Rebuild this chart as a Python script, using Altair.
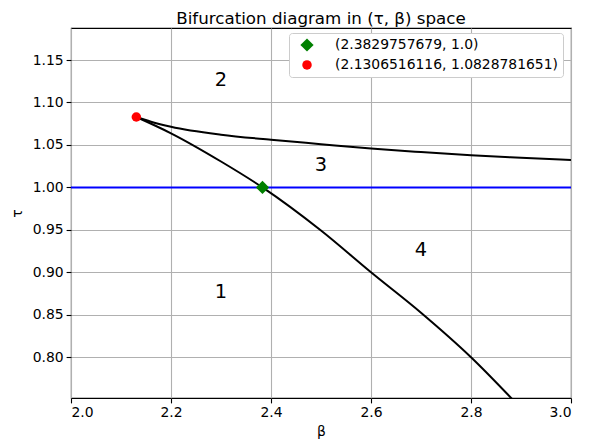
import altair as alt
import pandas as pd

# ---- data ----
upper_beta = [2.1306516116, 2.16, 2.2, 2.3, 2.4, 2.5, 2.6, 2.7, 2.8, 2.9, 3.0]
upper_tau = [1.0828781651, 1.0774, 1.0715, 1.0621, 1.0561, 1.0509, 1.0458, 1.0416, 1.0378, 1.0349, 1.0323]

lower_beta = [2.1306516116, 2.2, 2.3, 2.3829757679, 2.5, 2.6, 2.7, 2.8, 2.9]
lower_tau = [1.0828781651, 1.0637, 1.0305, 1.0, 0.9492, 0.9000, 0.8524, 0.8000, 0.7398]

hline_tau = 1.0
hline_beta = [2.0, 3.0]

point_beta = [2.3829757679, 2.1306516116]
point_tau = [1.0, 1.0828781651]
point_labels = ["(2.3829757679, 1.0)", "(2.1306516116, 1.0828781651)"]
point_colors = ["green", "red"]
point_shapes = ["diamond", "circle"]
point_sizes = [175, 90]

region_text = ["1", "2", "3", "4"]
region_beta = [2.3, 2.3, 2.5, 2.7]
region_tau = [0.8765, 1.1265, 1.0264, 0.9263]

x_ticks = [2.0, 2.2, 2.4, 2.6, 2.8, 3.0]
y_ticks = [0.80, 0.85, 0.90, 0.95, 1.00, 1.05, 1.10, 1.15]

FONT = "DejaVu Sans"
FS = 13.9

curves = pd.DataFrame(
    [{"beta": b, "tau": t, "branch": "upper", "i": i} for i, (b, t) in enumerate(zip(upper_beta, upper_tau))]
    + [{"beta": b, "tau": t, "branch": "lower", "i": i} for i, (b, t) in enumerate(zip(lower_beta, lower_tau))]
)
hline = pd.DataFrame({"beta": hline_beta, "tau": [hline_tau] * len(hline_beta)})
points = pd.DataFrame({"beta": point_beta, "tau": point_tau, "label": point_labels})
regions = pd.DataFrame({"beta": region_beta, "tau": region_tau, "text": region_text})

xscale = alt.Scale(domain=[2.0, 3.0], nice=False, zero=False)
yscale = alt.Scale(domain=[0.752, 1.1877], nice=False, zero=False)

xaxis = alt.Axis(values=x_ticks, format=".1f", title="β", grid=True)
yaxis = alt.Axis(values=y_ticks, format=".2f", title="τ", grid=True)

x = alt.X("beta:Q", scale=xscale, axis=xaxis)
y = alt.Y("tau:Q", scale=yscale, axis=yaxis)

curve_layer = alt.Chart(curves).mark_line(
    color="black", strokeWidth=2, clip=True, interpolate="monotone"
).encode(x=x, y=y, detail="branch:N", order="i:Q")

hline_layer = alt.Chart(hline).mark_line(color="blue", strokeWidth=2, clip=True).encode(
    x=x, y=y
)

legend = alt.Legend(
    title=None,
    orient="none",
    legendX=218,
    legendY=5,
    fillColor="white",
    strokeColor="#cccccc",
    cornerRadius=3,
    padding=5,
    labelFont=FONT,
    labelFontSize=FS,
    labelColor="black",
    labelOffset=21,
    labelLimit=500,
    symbolOffset=6,
    rowPadding=5,
    symbolStrokeWidth=0,
)

point_layer = alt.Chart(points).mark_point(filled=True, opacity=1).encode(
    x=x,
    y=y,
    color=alt.Color("label:N", scale=alt.Scale(domain=point_labels, range=point_colors), legend=legend),
    shape=alt.Shape("label:N", scale=alt.Scale(domain=point_labels, range=point_shapes), legend=legend),
    size=alt.Size("label:N", scale=alt.Scale(domain=point_labels, range=point_sizes), legend=legend),
)

text_layer = alt.Chart(regions).mark_text(
    font=FONT, fontSize=19.4, color="black", align="center", baseline="middle"
).encode(x=x, y=y, text="text:N")

chart = (
    alt.layer(curve_layer, hline_layer, point_layer, text_layer)
    .properties(
        width=500,
        height=370,
        background="white",
        autosize=alt.AutoSizeParams(type="none"),
        padding={"left": 63, "top": 20, "right": 12, "bottom": 45},
        title=alt.Title(
            "Bifurcation diagram in (τ, β) space",
            font=FONT,
            fontSize=16.7,
            fontWeight="normal",
            color="black",
            offset=0,
        ),
    )
    .configure_view(stroke="black", strokeWidth=1.1)
    .configure_axis(
        labelFont=FONT,
        labelFontSize=FS,
        labelColor="black",
        titleFont=FONT,
        titleFontSize=FS,
        titleFontWeight="normal",
        titleColor="black",
        domain=False,
        tickColor="black",
        tickSize=4.9,
        tickWidth=1.1,
        labelPadding=3,
        gridColor="#b0b0b0",
        gridWidth=1.1,
        gridOpacity=1,
    )
    .configure_axisX(titlePadding=5)
    .configure_axisY(titlePadding=8)
)

chart.save("out.html", embed_options={"renderer": "svg", "actions": False})
